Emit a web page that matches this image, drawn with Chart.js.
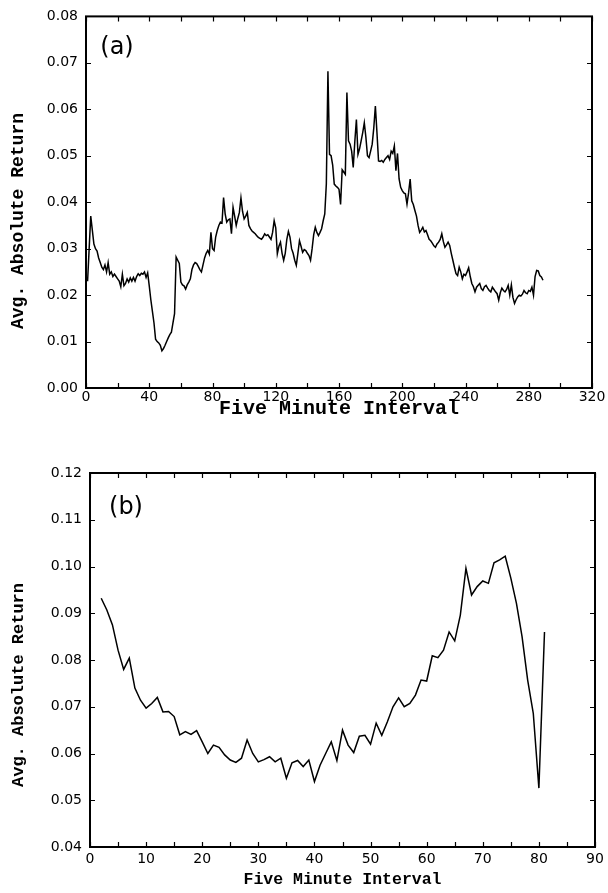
<!DOCTYPE html>
<html>
<head>
<meta charset="utf-8">
<script src="https://cdn.jsdelivr.net/npm/chart.js@4.4.1/dist/chart.umd.min.js"></script>
<style>
  html, body { margin: 0; padding: 0; background: #fff; }
  #wrap { position: relative; width: 608px; height: 893px; overflow: hidden; }
  #chartA { position: absolute; left: 0; top: 0; }
  #chartB { position: absolute; left: 0; top: 440px; }
</style>
</head>
<body>
<div id="wrap">
  <canvas id="chartA" width="608" height="425"></canvas>
  <canvas id="chartB" width="608" height="453"></canvas>
</div>
<script>
(function () {
  // panel (a): intervals 1..289, avg absolute return
  var topStart = 1;
  var topValues = [
    0.0230, 0.0300, 0.0370, 0.0340, 0.0310, 0.0300, 0.0295, 0.0280, 0.0270, 0.0260,
    0.0255, 0.0265, 0.0250, 0.0270, 0.0245, 0.0250, 0.0240, 0.0245, 0.0240, 0.0235,
    0.0230, 0.0218, 0.0245, 0.0220, 0.0225, 0.0235, 0.0228, 0.0237, 0.0230, 0.0238,
    0.0230, 0.0240, 0.0246, 0.0242, 0.0247, 0.0245, 0.0250, 0.0238, 0.0248, 0.0220,
    0.0190, 0.0165, 0.0140, 0.0105, 0.0100, 0.0097, 0.0092, 0.0080, 0.0085, 0.0092,
    0.0100, 0.0108, 0.0115, 0.0120, 0.0140, 0.0160, 0.0282, 0.0275, 0.0268, 0.0228,
    0.0222, 0.0220, 0.0213, 0.0222, 0.0228, 0.0235, 0.0255, 0.0265, 0.0270, 0.0268,
    0.0262, 0.0255, 0.0250, 0.0265, 0.0280, 0.0290, 0.0296, 0.0288, 0.0335, 0.0300,
    0.0296, 0.0325, 0.0339, 0.0350, 0.0357, 0.0355, 0.0410, 0.0375, 0.0357, 0.0362,
    0.0364, 0.0332, 0.0389, 0.0370, 0.0350, 0.0365, 0.0378, 0.0409, 0.0380, 0.0364,
    0.0370, 0.0378, 0.0350, 0.0343, 0.0338, 0.0335, 0.0332, 0.0328, 0.0324, 0.0322,
    0.0320, 0.0325, 0.0332, 0.0328, 0.0330, 0.0325, 0.0320, 0.0335, 0.0360, 0.0345,
    0.0289, 0.0305, 0.0314, 0.0290, 0.0275, 0.0290, 0.0320, 0.0337, 0.0325, 0.0300,
    0.0290, 0.0275, 0.0264, 0.0290, 0.0317, 0.0305, 0.0292, 0.0298, 0.0296, 0.0290,
    0.0285, 0.0275, 0.0300, 0.0330, 0.0346, 0.0335, 0.0328, 0.0335, 0.0343, 0.0360,
    0.0375, 0.0440, 0.0682, 0.0503, 0.0500, 0.0480, 0.0439, 0.0435, 0.0432, 0.0428,
    0.0395, 0.0470, 0.0465, 0.0460, 0.0636, 0.0532, 0.0525, 0.0510, 0.0475, 0.0530,
    0.0578, 0.0503, 0.0515, 0.0532, 0.0550, 0.0571, 0.0540, 0.0500, 0.0496, 0.0510,
    0.0525, 0.0560, 0.0607, 0.0550, 0.0489, 0.0488, 0.0490, 0.0486, 0.0492, 0.0496,
    0.0500, 0.0492, 0.0510, 0.0505, 0.0521, 0.0468, 0.0505, 0.0450, 0.0432, 0.0425,
    0.0420, 0.0418, 0.0396, 0.0420, 0.0450, 0.0403, 0.0395, 0.0382, 0.0370, 0.0350,
    0.0335, 0.0340, 0.0346, 0.0336, 0.0339, 0.0330, 0.0320, 0.0317, 0.0312, 0.0306,
    0.0303, 0.0310, 0.0314, 0.0320, 0.0332, 0.0315, 0.0303, 0.0308, 0.0314, 0.0307,
    0.0290, 0.0275, 0.0260, 0.0246, 0.0242, 0.0260, 0.0250, 0.0235, 0.0245, 0.0242,
    0.0250, 0.0259, 0.0240, 0.0225, 0.0218, 0.0207, 0.0217, 0.0221, 0.0225, 0.0214,
    0.0210, 0.0218, 0.0221, 0.0215, 0.0210, 0.0207, 0.0217, 0.0212, 0.0207, 0.0203,
    0.0189, 0.0205, 0.0215, 0.0210, 0.0207, 0.0212, 0.0221, 0.0200, 0.0222, 0.0195,
    0.0182, 0.0190, 0.0196, 0.0200, 0.0198, 0.0202, 0.0210, 0.0205, 0.0203, 0.0210,
    0.0208, 0.0217, 0.0200, 0.0240, 0.0253, 0.0252, 0.0242, 0.0239, 0.0232
  ];

  // panel (b): intervals 2..81
  var bottomStart = 2;
  var bottomValues = [
    0.0932, 0.0907, 0.0875, 0.0821, 0.0780, 0.0804, 0.0740, 0.0714, 0.0697, 0.0707,
    0.0720, 0.0689, 0.0690, 0.0679, 0.0640, 0.0647, 0.0641, 0.0649, 0.0625, 0.0600,
    0.0618, 0.0613, 0.0597, 0.0586, 0.0581, 0.0590, 0.0629, 0.0600, 0.0582, 0.0587,
    0.0593, 0.0582, 0.0590, 0.0547, 0.0580, 0.0585, 0.0572, 0.0586, 0.0540, 0.0575,
    0.0600, 0.0625, 0.0585, 0.0650, 0.0618, 0.0602, 0.0637, 0.0639, 0.0620, 0.0665,
    0.0639, 0.0668, 0.0700, 0.0719, 0.0700, 0.0707, 0.0725, 0.0757, 0.0755, 0.0809,
    0.0805, 0.0821, 0.0860, 0.0841, 0.0896, 0.0996, 0.0939, 0.0957, 0.0969, 0.0964,
    0.1008, 0.1014, 0.1022, 0.0975, 0.0921, 0.0850, 0.0757, 0.0686, 0.0526, 0.0860
  ];

  var xTitle = 'Five Minute Interval';
  var yTitle = 'Avg. Absolute Return';
  var tickFont = 'DejaVu Sans';
  var titleFont = 'Liberation Mono';

  Chart.defaults.color = '#000';

  // inward tick marks on all four sides, box frame, panel letter, y title
  var framePlugin = {
    id: 'frame',
    afterDraw: function (chart, args, opts) {
      var ctx = chart.ctx;
      var a = chart.chartArea;
      var xs = chart.scales.x;
      var ys = chart.scales.y;
      var len = 5;
      ctx.save();
      ctx.strokeStyle = '#000';
      ctx.lineWidth = 1.2;
      ctx.beginPath();
      xs.ticks.forEach(function (t) {
        var px = Math.round(xs.getPixelForValue(t.value)) + 0.5;
        ctx.moveTo(px, a.bottom); ctx.lineTo(px, a.bottom - len);
        ctx.moveTo(px, a.top); ctx.lineTo(px, a.top + len);
      });
      ys.ticks.forEach(function (t) {
        var py = Math.round(ys.getPixelForValue(t.value)) + 0.5;
        ctx.moveTo(a.left, py); ctx.lineTo(a.left + len, py);
        ctx.moveTo(a.right, py); ctx.lineTo(a.right - len, py);
      });
      ctx.stroke();
      ctx.lineWidth = 2;
      ctx.strokeRect(a.left, a.top, a.right - a.left, a.bottom - a.top);

      ctx.fillStyle = '#000';
      ctx.textAlign = 'center';
      ctx.textBaseline = 'middle';
      ctx.font = '24px "DejaVu Sans"';
      ctx.fillText(opts.label, a.left + opts.dx, a.top + opts.dy);

      // y title sits a little below the middle of the axis in the original
      ctx.translate(opts.titleX, opts.titleY);
      ctx.rotate(-Math.PI / 2);
      ctx.font = 'bold ' + opts.titleSize + 'px "' + titleFont + '"';
      ctx.fillText(yTitle, 0, 0);
      ctx.restore();
    }
  };

  function toPoints(start, values) {
    return values.map(function (v, i) { return { x: start + i, y: v }; });
  }

  function makeChart(id, cfg) {
    return new Chart(document.getElementById(id), {
      type: 'line',
      data: {
        datasets: [{
          data: toPoints(cfg.start, cfg.values),
          borderColor: '#000',
          borderWidth: cfg.lineWidth,
          pointRadius: 0,
          tension: 0,
          fill: false
        }]
      },
      plugins: [framePlugin],
      options: {
        responsive: false,
        animation: false,
        layout: { padding: cfg.padding },
        plugins: {
          legend: { display: false },
          tooltip: { enabled: false },
          frame: cfg.frame
        },
        scales: {
          x: {
            type: 'linear',
            min: cfg.xMin,
            max: cfg.xMax,
            afterFit: function (s) { s.height = cfg.xHeight; },
            grid: { display: false, drawTicks: false },
            border: { display: false },
            ticks: {
              stepSize: cfg.xStep,
              autoSkip: false,
              maxRotation: 0,
              padding: cfg.xTickPad,
              font: { family: tickFont, size: 14 },
              callback: function (v) { return v % cfg.xLabelEvery === 0 ? String(v) : ''; }
            },
            title: {
              display: true,
              text: xTitle,
              font: { family: titleFont, size: cfg.xTitleSize, weight: 'bold' },
              padding: { top: 0, bottom: cfg.xTitlePad }
            }
          },
          y: {
            min: cfg.yMin,
            max: cfg.yMax,
            afterFit: function (s) { s.width = cfg.yWidth; },
            grid: { display: false, drawTicks: false },
            border: { display: false },
            ticks: {
              stepSize: 0.01,
              padding: 8,
              font: { family: tickFont, size: 14 },
              callback: function (v) { return v.toFixed(2); }
            },
            title: { display: false }
          }
        }
      }
    });
  }

  makeChart('chartA', {
    start: topStart, values: topValues, lineWidth: 1.5,
    padding: { top: 15, right: 16, left: 0, bottom: 0 },
    xMin: 0, xMax: 320, xStep: 20, xLabelEvery: 40, xHeight: 37, xTickPad: 1,
    xTitleSize: 20, xTitlePad: 4,
    yMin: 0, yMax: 0.08, yWidth: 86,
    frame: { label: '(a)', dx: 31, dy: 31, titleX: 18, titleY: 221, titleSize: 18 }
  });

  makeChart('chartB', {
    start: bottomStart, values: bottomValues, lineWidth: 1.5,
    padding: { top: 33, right: 13, left: 0, bottom: 0 },
    xMin: 0, xMax: 90, xStep: 5, xLabelEvery: 10, xHeight: 46, xTickPad: 4,
    xTitleSize: 16.5, xTitlePad: 3,
    yMin: 0.04, yMax: 0.12, yWidth: 90,
    frame: { label: '(b)', dx: 36, dy: 35, titleX: 19, titleY: 245, titleSize: 17 }
  });
})();
</script>
</body>
</html>
